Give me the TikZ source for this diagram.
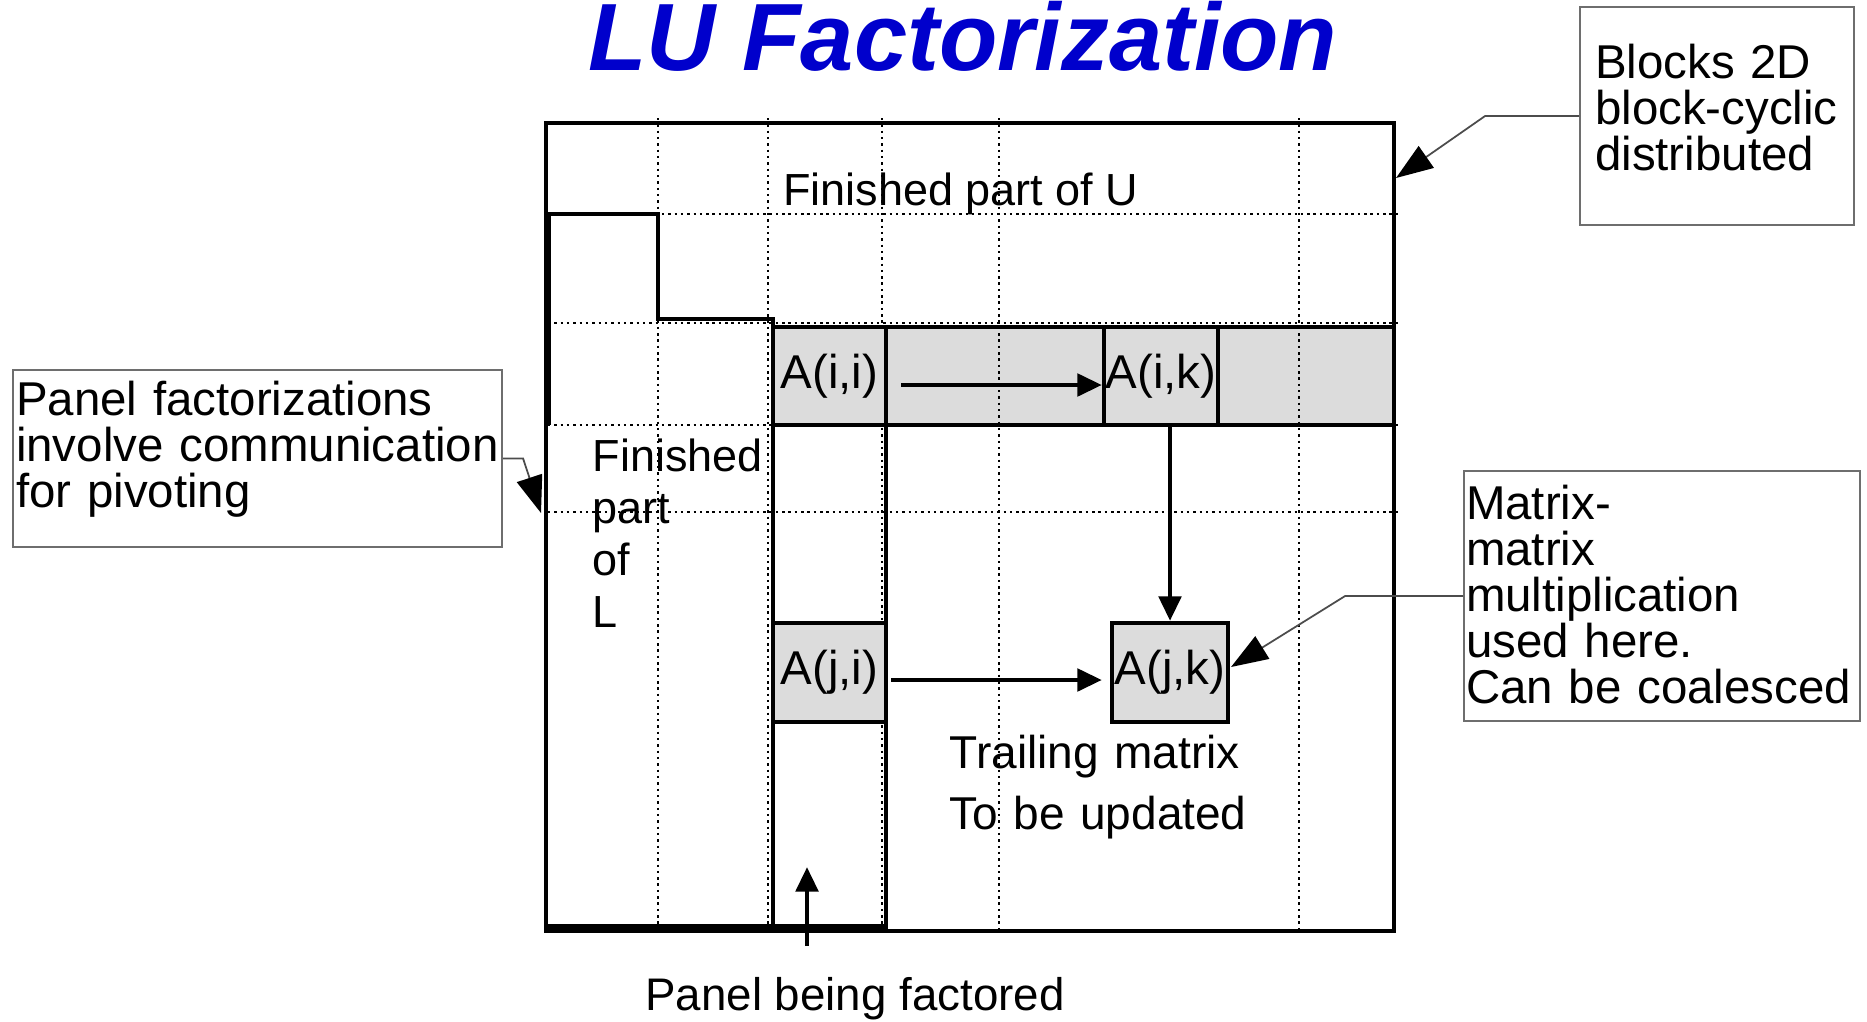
\documentclass[tikz,border=0pt]{standalone}
\usepackage{fontspec}
\setmainfont{Liberation Sans}
\usetikzlibrary{arrows.meta}
\definecolor{titleblue}{RGB}{0,0,204}
\definecolor{cellgray}{RGB}{220,220,220}
\definecolor{boxline}{RGB}{110,110,110}
\newcommand{\callfont}{\fontsize{13.5}{13.1}\selectfont\hyphenpenalty=10000}
\newcommand{\lblfont}{\fontsize{13}{15}\selectfont}
\tikzset{
  frm/.style={line width=1.2pt},
  gridln/.style={line width=0.5pt,dash pattern=on 0.7pt off 1.1pt},
  cell/.style={draw,line width=1.2pt,fill=cellgray,inner sep=0pt,font=\fontsize{13.5}{15}\selectfont},
  callout/.style={draw=boxline,line width=0.6pt,align=left,inner ysep=0pt,anchor=north west,font=\callfont},
  arr/.style={-{Triangle[length=7pt,width=6.3pt]},line width=1.4pt},
  lead/.style={-{Triangle[length=10.5pt,width=7.5pt,color=black]},line width=0.5pt,black!70},
  txt/.style={inner sep=0pt,font=\lblfont},
}

\begin{document}
\begin{tikzpicture}[x=0.1mm,y=-0.1mm]
\useasboundingbox (0,0) rectangle (1867,1021);
% title
\node[anchor=base,inner sep=0pt,text=titleblue,font=\fontsize{27.2}{30}\selectfont\bfseries\itshape] (ttl) at (963,71) {LU Factorization};
% shaded block row i
\fill[cellgray] (773,327) rectangle (1394,425);
% block grid
\foreach \gx in {658,768,882,999,1299}
  \draw[gridln] (\gx,118) -- (\gx,931);
\foreach \gy in {214,323,425,512}
  \draw[gridln] (548,\gy) -- (1398,\gy);
% matrix frame, L/U staircase and panel
\draw[frm] (546,123) rectangle (1394,931);
\draw[frm] (549,425) -- (549,214) -- (658,214) -- (658,319) -- (773,319) -- (773,931);
\draw[frm] (886,327) -- (886,931);
\draw[frm] (773,327) -- (1394,327);
\draw[frm] (773,425) -- (1394,425);
\draw[frm,line width=2.4pt] (546,928) -- (886,928);
% blocks
\node[cell,minimum width=11.3mm,minimum height=9.8mm] (aii) at (829.5,376) {A(i,i)};
\node[cell,minimum width=11.4mm,minimum height=9.8mm] (aik) at (1161,376) {A(i,k)};
\node[cell,minimum width=11.3mm,minimum height=9.9mm] (aji) at (829.5,672.5) {A(j,i)};
\node[cell,minimum width=11.6mm,minimum height=9.9mm] (ajk) at (1170,672.5) {A(j,k)};
% labels
\node[txt,anchor=base,font=\fontsize{12.8}{15}\selectfont] (finu) at (961,205) {Finished part of U};
\node[txt,anchor=base west,text width=18mm,align=left,font=\fontsize{12.8}{14.8}\selectfont] (finl) at (592,471) {Finished\\part\\of\\L};
\node[txt,anchor=base west,text width=30mm,align=left,font=\fontsize{13.1}{17.6}\selectfont] (trl) at (949,768) {Trailing matrix\\To be updated};
\node[txt,anchor=base,font=\fontsize{13}{15}\selectfont] (pbf) at (855,1010) {Panel being factored};
\coordinate (ptip) at (807,867);
% data flow
\draw[arr,shorten <=1.3mm] ([yshift=-0.9mm]aii.east) -- ([yshift=-0.9mm]aik.west);
\draw[arr] (aik.south -| ajk.north) -- (ajk.north);
\draw[arr,shorten <=0.3mm,shorten >=0.8mm] ([yshift=-0.75mm]aji.east) -- ([yshift=-0.75mm]ajk.west);
\draw[arr,shorten <=3mm] (ptip |- pbf.north) -- (ptip);
% callouts
\node[callout,inner xsep=1.5mm,text width=24.4mm,text height=7.1mm,text depth=14.7mm] (blk) at (1579,6) {Blocks 2D\\block-cyclic\\distributed};
\node[callout,inner xsep=0.3mm,text width=48.3mm,text height=4.5mm,text depth=13.2mm] (pnf) at (12,369) {Panel factorizations\\involve communication\\for pivoting};
\node[callout,inner xsep=0.2mm,text width=39.2mm,text height=4.8mm,text depth=20.2mm] (mmm) at (1463,470) {Matrix-\\matrix\\multiplication\\used here.\\Can be coalesced};
\coordinate (tipblk) at (1396,178);
\coordinate (tippnf) at (541,513);
\coordinate (tipmmm) at (1231,667);
\draw[lead] (blk.west) -- ++(-9.4mm,0) -- (tipblk);
\draw[lead] (pnf.east) -- ++(2mm,0) -- (tippnf);
\draw[lead] (mmm.west) -- ++(-11.8mm,0) -- (tipmmm);
\end{tikzpicture}
\end{document}
